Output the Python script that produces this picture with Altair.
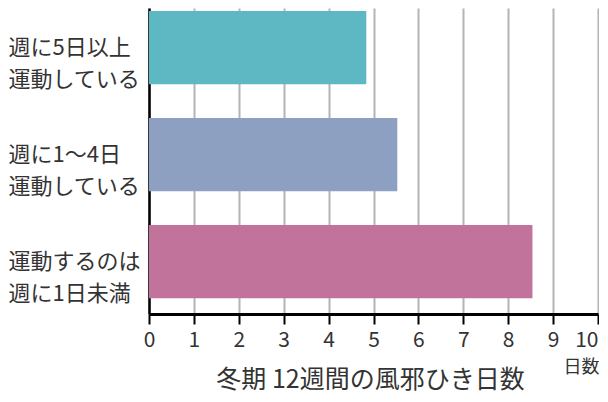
import altair as alt
import pandas as pd

categories = ["週に5日以上\n運動している", "週に1〜4日\n運動している", "運動するのは\n週に1日未満"]
values = [4.84, 5.53, 8.54]
colors = ["#5db8c3", "#8ea0c1", "#c1739b"]
x_ticks = list(range(0, 11))
axis_title = "日数"
chart_title = "冬期 12週間の風邪ひき日数"

FONT = "Noto Sans CJK JP"
TEXT = "#333333"

df = pd.DataFrame({"cat": categories, "value": values})

chart = (
    alt.Chart(df)
    .mark_bar()
    .encode(
        y=alt.Y(
            "cat:N",
            sort=categories,
            scale=alt.Scale(paddingInner=0.315, paddingOuter=0.087, align=0.16),
            axis=alt.Axis(
                title=None,
                ticks=False,
                grid=False,
                domainColor="#000000",
                domainWidth=2.5,
                labelExpr="split(datum.label, '\\n')",
                labelAlign="left",
                labelBaseline="middle",
                labelPadding=141,
                labelFontSize=22,
                labelLineHeight=32.5,
                labelFont=FONT,
                labelColor=TEXT,
                labelLimit=300,
            ),
        ),
        x=alt.X(
            "value:Q",
            scale=alt.Scale(domain=[0, 10], nice=False, zero=True),
            axis=alt.Axis(
                values=x_ticks,
                title=axis_title,
                titleX=450,
                titleY=53,
                titleAlign="right",
                titleBaseline="middle",
                titleFontSize=18,
                titleFont=FONT,
                titleFontWeight="normal",
                titleColor=TEXT,
                grid=True,
                gridColor="#b4b4b4",
                gridWidth=2,
                domainColor="#000000",
                domainWidth=3,
                tickColor="#000000",
                tickWidth=2,
                tickSize=10,
                labelFontSize=21,
                labelFont=FONT,
                labelColor=TEXT,
                labelPadding=5,
                labelFlush=False,
                labelAlign=alt.expr("datum.value == 10 ? 'right' : 'center'"),
            ),
        ),
        color=alt.Color(
            "cat:N",
            scale=alt.Scale(domain=categories, range=colors),
            legend=None,
        ),
    )
    .properties(
        width=449,
        height=306,
        padding={"left": 0, "top": 0, "right": 0, "bottom": 3},
        title=alt.TitleParams(
            chart_title,
            orient="bottom",
            anchor="middle",
            frame="group",
            fontSize=25,
            font=FONT,
            fontWeight="normal",
            color=TEXT,
            offset=-8,
            dx=-3,
        ),
    )
    .configure_view(stroke=None)
)

chart.save("out.html", embed_options={"renderer": "svg", "actions": False})
